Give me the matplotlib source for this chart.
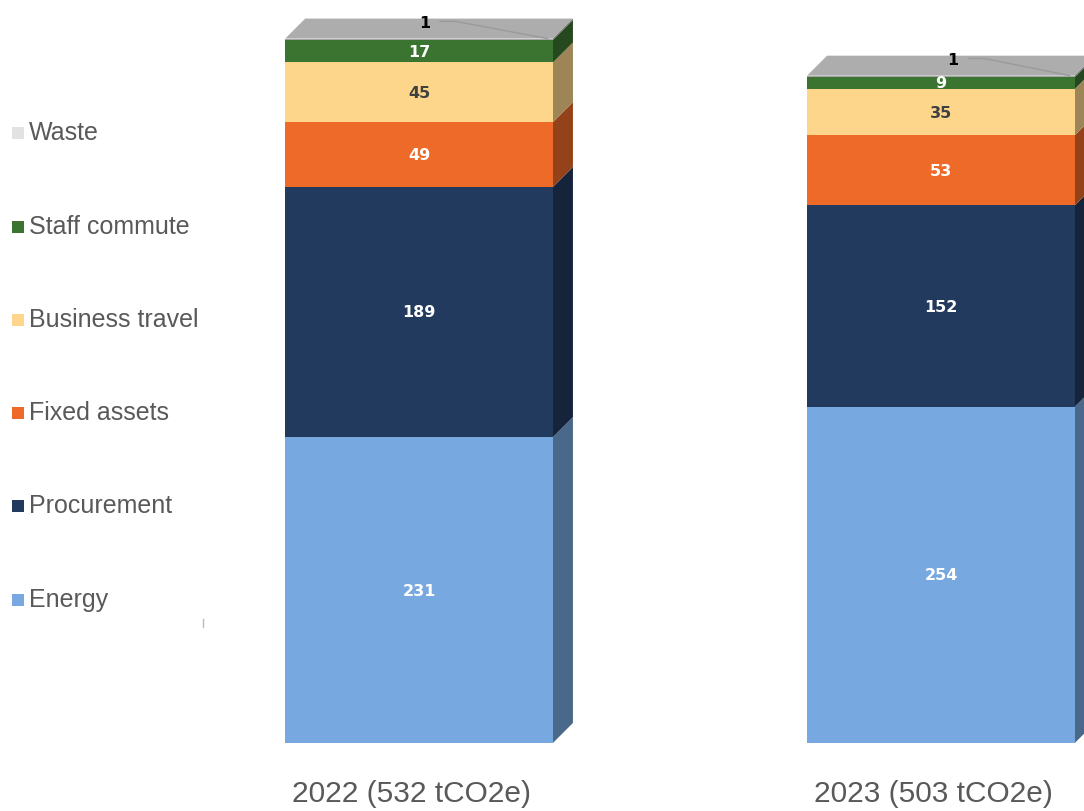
import matplotlib
matplotlib.use("Agg")
import matplotlib.pyplot as plt
from matplotlib.patches import Polygon, Rectangle
from matplotlib.lines import Line2D
import matplotlib.colors as mcolors
import numpy as np

# ── Data ──────────────────────────────────────────────────────────────────────
years = ["2022 (532 tCO2e)", "2023 (503 tCO2e)"]
categories = ["Energy", "Procurement", "Fixed assets", "Business travel",
              "Staff commute", "Waste"]
energy = [231, 254]
procurement = [189, 152]
fixed_assets = [49, 53]
business_travel = [45, 35]
staff_commute = [17, 9]
waste = [1, 1]
series = [energy, procurement, fixed_assets, business_travel, staff_commute, waste]

# ── Style ─────────────────────────────────────────────────────────────────────
FRONT = ["#77A8DF", "#223A5E", "#EE6A29", "#FDD68C", "#3B7430", "#A5A5A5"]
LEGEND_COL = ["#77A8DF", "#223A5E", "#EE6A29", "#FDD68C", "#3B7430", "#E2E2E2"]
LABEL_COL = ["white", "white", "white", "#404040", "white", "black"]
TOP_FACE = "#ADADAD"
TEXT_GREY = "#595959"
LABEL_FONT = "DejaVu Sans"
TEXT_FONT = "Liberation Sans"

def darker(c, f=0.62):
    r, g, b = mcolors.to_rgb(c)
    return (r * f, g * f, b * f)

fig = plt.figure(figsize=(10.84, 8.12), dpi=100, facecolor="white")
ax = fig.add_axes([0, 0, 1, 1])
ax.set_xlim(-0.803, 1.274)
ax.set_ylim(-51.4, 561.9)
ax.axis("off")

x = np.arange(len(years))
width = 0.513
dx = 0.0383   # 3D depth, x
dy = 15.1     # 3D depth, y

bottoms = np.zeros(len(years))
for k, vals in enumerate(series):
    vals = np.array(vals, dtype=float)
    ax.bar(x, vals, width, bottom=bottoms, color=FRONT[k], edgecolor="none",
           zorder=3)
    for i in range(len(years)):
        xr = x[i] + width / 2
        y0, y1 = bottoms[i], bottoms[i] + vals[i]
        side = Polygon([(xr, y0), (xr + dx, y0 + dy), (xr + dx, y1 + dy), (xr, y1)],
                       closed=True, facecolor=darker(FRONT[k]), edgecolor="none",
                       zorder=2)
        ax.add_patch(side)
        if k < len(series) - 1:
            ax.text(x[i], (y0 + y1) / 2, f"{int(vals[i])}", ha="center",
                    va="center", fontsize=11.5, fontweight="bold",
                    family=LABEL_FONT, color=LABEL_COL[k], zorder=6)
    bottoms += vals

totals = bottoms
for i in range(len(years)):
    xl, xr = x[i] - width / 2, x[i] + width / 2
    t = totals[i]
    top = Polygon([(xl, t), (xl + dx, t + dy), (xr + dx, t + dy), (xr, t)],
                  closed=True, facecolor=TOP_FACE, edgecolor="none", zorder=4)
    ax.add_patch(top)
    # waste label with leader line
    lx = x[i] + 0.01 + 0.013 * i
    ax.text(lx, t + 12, f"{waste[i]}", ha="center", va="center", fontsize=11.5,
            fontweight="bold", family=LABEL_FONT, color="black", zorder=6)
    ax.plot([lx + 0.03, lx + 0.06, xr - 0.01], [t + 13, t + 13, t],
            color="#9A9A9A", lw=1, zorder=5)
    # category label
    ax.text(x[i] - 0.015, -38, years[i], ha="center", va="center",
            fontsize=21.5, family=TEXT_FONT, color=TEXT_GREY)

# ── Legend (manual) ───────────────────────────────────────────────────────────
leg_y_px = [600, 506, 413, 320, 227, 133]
for k, cat in enumerate(categories):
    yf = 1 - leg_y_px[k] / 812
    fig.add_artist(Rectangle((12 / 1084, yf - 6.5 / 812), 12 / 1084, 12 / 812,
                             transform=fig.transFigure, facecolor=LEGEND_COL[k],
                             edgecolor="none"))
    fig.text(29 / 1084, yf, cat, ha="left", va="center", fontsize=18,
             family=TEXT_FONT, color=TEXT_GREY)

fig.add_artist(Line2D([203 / 1084, 203 / 1084], [1 - 628 / 812, 1 - 620 / 812],
                      transform=fig.transFigure, color="#BBBBBB", lw=1))

fig.savefig("out.png", dpi=100, facecolor="white")
